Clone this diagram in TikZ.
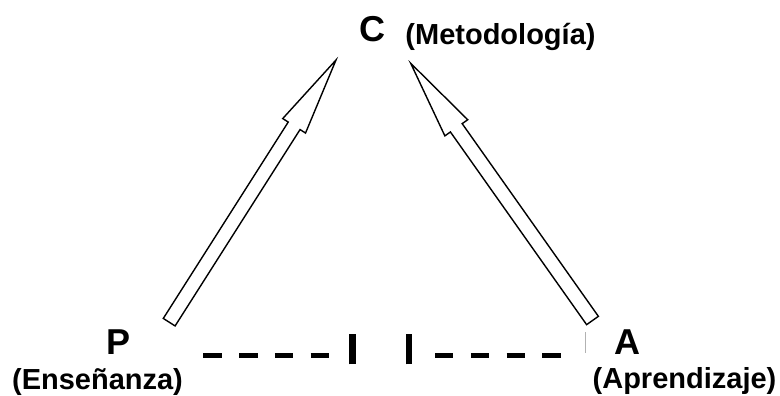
\documentclass[tikz,border=0pt]{standalone}
\usepackage{fontspec}
\setmainfont{Liberation Sans}
\usetikzlibrary{calc}
\tikzset{
  big/.style={font=\fontsize{36}{40}\selectfont\bfseries, inner sep=0pt, anchor=base},
  sub/.style={font=\fontsize{29}{32}\selectfont\bfseries, inner sep=0pt, anchor=base},
  fatline/.style={draw=black, line width=1.4pt, line join=miter, fill=white},
  dashline/.style={line width=5pt, dash pattern=on 18.4pt off 17.4pt, line cap=butt},
  barline/.style={line width=6.4pt, line cap=butt},
  cursor/.style={draw=gray!60, line width=0.8pt}
}
\begin{document}
\begin{tikzpicture}[x=1pt,y=1pt]
\useasboundingbox (0,0) rectangle (780,396);
% labels
\node[big] (P) at (119,41) {P};
\node[big] (A) at (627.5,41) {A};
\node[big] (C) at (372.5,354) {C};
\node[sub] (Pt) at (97.5,6) {(Enseñanza)};
\node[sub] (At) at (684.5,7) {(Aprendizaje)};
\node[sub] (Ct) at (500.5,351) {(Metodología)};
% arrow end points
\coordinate (lt) at (169.2,73.8);
\coordinate (lh) at (336,336);
\coordinate (rt) at (592.5,75.5);
\coordinate (rh) at (410.7,332.7);
\coordinate (lb) at ($(lh)!78pt!(lt)$);
\coordinate (rb) at ($(rh)!79pt!(rt)$);
% left arrow
\draw[fatline] ($(lt)!7pt!90:(lh)$) -- ($(lb)!7pt!-90:(lt)$) -- ($(lb)!13.5pt!-90:(lt)$) -- (lh)
  -- ($(lb)!13.5pt!90:(lt)$) -- ($(lb)!7pt!90:(lt)$) -- ($(lt)!7pt!-90:(lh)$) -- cycle;
% right arrow
\draw[fatline] ($(rt)!7.2pt!90:(rh)$) -- ($(rb)!7.2pt!-90:(rt)$) -- ($(rb)!14pt!-90:(rt)$) -- (rh)
  -- ($(rb)!14pt!90:(rt)$) -- ($(rb)!7.2pt!90:(rt)$) -- ($(rt)!7.2pt!-90:(rh)$) -- cycle;
% dashed link with two bars
\coordinate (d1) at (203.3,40.3);
\coordinate (d2) at (329.2,40.3);
\coordinate (d3) at (435,40.3);
\coordinate (d4) at (560.9,40.3);
\draw[dashline] (d1) -- (d2);
\draw[dashline] (d3) -- (d4);
\coordinate (b1a) at (352.5,31.7);
\coordinate (b1b) at (352.5,62);
\coordinate (b2a) at (408.7,31.7);
\coordinate (b2b) at (408.7,62);
\draw[barline] (b1a) -- (b1b);
\draw[barline] (b2a) -- (b2b);
% thin gray mark
\coordinate (g1) at (585,43);
\coordinate (g2) at (585,64);
\draw[cursor] (g1) -- (g2);
\end{tikzpicture}
\end{document}
